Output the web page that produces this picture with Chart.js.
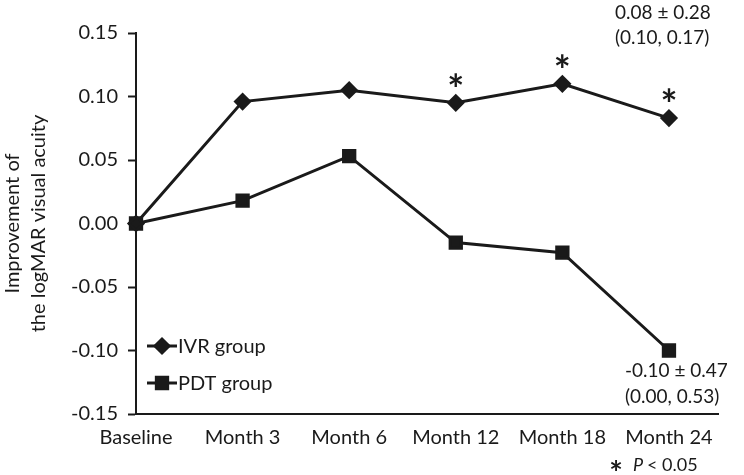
<!DOCTYPE html>
<html>
<head>
<meta charset="utf-8">
<script src="https://cdn.jsdelivr.net/npm/chart.js@4/dist/chart.umd.min.js"></script>
<style>
  html, body { margin: 0; padding: 0; background: #fff; }
  #wrap { width: 744px; height: 475px; position: relative; }
</style>
</head>
<body>
<div id="wrap"><canvas id="chart" width="744" height="475"></canvas></div>
<script>
// Data
const categories = ['Baseline', 'Month 3', 'Month 6', 'Month 12', 'Month 18', 'Month 24'];
const ivrValues = [0, 0.096, 0.105, 0.095, 0.110, 0.083];
const pdtValues = [0, 0.018, 0.053, -0.015, -0.023, -0.100];
const significantIdx = [3, 4, 5];
const ivrNote = ['0.08 \u00b1 0.28', '(0.10, 0.17)'];
const pdtNote = ['-0.10 \u00b1 0.47', '(0.00, 0.53)'];

const FONT = 'Lato, "Open Sans", sans-serif';
const INK = '#1a1a1a';

const toPoints = vals => vals.map((v, i) => ({ x: i, y: v }));

// draw a glyph with its ink box centred on (x, y)
function centredGlyph(ctx, ch, x, y) {
    ctx.textAlign = 'center';
    ctx.textBaseline = 'alphabetic';
    const m = ctx.measureText(ch);
    const mid = (m.actualBoundingBoxAscent - m.actualBoundingBoxDescent) / 2;
    ctx.fillText(ch, x, y + mid);
}

// Asterisks, side notes and in-plot legend
const extrasPlugin = {
    id: 'extras',
    afterDraw(chart) {
        const ctx = chart.ctx;
        const xs = chart.scales.x;
        const ys = chart.scales.y;
        ctx.save();
        ctx.fillStyle = INK;
        ctx.strokeStyle = INK;

        // significance stars above IVR points
        ctx.font = 'bold 40px ' + FONT;
        significantIdx.forEach(i => {
            centredGlyph(ctx, '*', xs.getPixelForValue(i), ys.getPixelForValue(ivrValues[i]) - 23);
        });

        // mean ± sd notes
        ctx.font = '19px ' + FONT;
        ctx.textAlign = 'left';
        ctx.textBaseline = 'middle';
        ivrNote.forEach((t, k) => ctx.fillText(t, 615, 13 + k * 25));
        pdtNote.forEach((t, k) => ctx.fillText(t, 625, 371 + k * 26));

        // footnote
        ctx.font = 'bold 32px ' + FONT;
        centredGlyph(ctx, '*', 616, 465);
        ctx.textAlign = 'left';
        ctx.textBaseline = 'middle';
        ctx.font = 'italic 18px ' + FONT;
        ctx.fillText('P', 633, 465);
        ctx.font = '18px ' + FONT;
        ctx.fillText('< 0.05', 647, 465);

        // legend
        const items = [
            { label: 'IVR group', ds: chart.data.datasets[0], y: 346 },
            { label: 'PDT group', ds: chart.data.datasets[1], y: 383 }
        ];
        items.forEach(it => {
            ctx.lineWidth = 3;
            ctx.beginPath();
            ctx.moveTo(147, it.y);
            ctx.lineTo(177, it.y);
            ctx.stroke();
            Chart.helpers.drawPoint(ctx, {
                pointStyle: it.ds.pointStyle,
                radius: it.ds.pointRadius,
                borderWidth: 1
            }, 162, it.y);
            ctx.fill();
            ctx.font = '20px ' + FONT;
            ctx.textAlign = 'left';
            ctx.textBaseline = 'middle';
            ctx.fillText(it.label, 178, it.y + 1);
        });
        ctx.restore();
    }
};

new Chart(document.getElementById('chart'), {
    type: 'line',
    data: {
        datasets: [
            {
                label: 'IVR group',
                data: toPoints(ivrValues),
                borderColor: INK,
                backgroundColor: INK,
                borderWidth: 3,
                pointStyle: 'rectRot',
                pointRadius: 7,
                pointHoverRadius: 7,
                tension: 0,
                clip: false
            },
            {
                label: 'PDT group',
                data: toPoints(pdtValues),
                borderColor: INK,
                backgroundColor: INK,
                borderWidth: 3,
                pointStyle: 'rect',
                pointRadius: 8,
                pointHoverRadius: 8,
                tension: 0,
                clip: false
            }
        ]
    },
    options: {
        responsive: false,
        animation: false,
        events: [],
        layout: { padding: { left: 0, top: 33, right: 26, bottom: 0 } },
        plugins: {
            legend: { display: false },
            tooltip: { enabled: false }
        },
        scales: {
            x: {
                type: 'linear',
                min: 0,
                max: 5.46,
                afterFit: s => { s.height = 61; },
                grid: { display: false, drawTicks: false, drawOnChartArea: false },
                border: { display: true, color: INK, width: 2 },
                ticks: {
                    stepSize: 1,
                    includeBounds: false,
                    autoSkip: false,
                    maxRotation: 0,
                    padding: 12,
                    color: INK,
                    font: { family: FONT, size: 20 },
                    callback: v => (Number.isInteger(v) ? categories[v] : '')
                }
            },
            y: {
                min: -0.15,
                max: 0.15,
                afterFit: s => { s.width = 136; },
                grid: {
                    drawOnChartArea: false,
                    drawTicks: true,
                    tickLength: 8,
                    tickWidth: 2,
                    color: INK
                },
                border: { display: true, color: INK, width: 2 },
                ticks: {
                    stepSize: 0.05,
                    padding: 10,
                    color: INK,
                    font: { family: FONT, size: 20 },
                    callback: v => (Math.abs(v) < 1e-9 ? '0.00' : v.toFixed(2))
                },
                title: {
                    display: true,
                    text: ['Improvement of', 'the logMAR visual acuity'],
                    color: INK,
                    font: { family: FONT, size: 20, lineHeight: 1.3 },
                    padding: { top: 0, bottom: 0 }
                }
            }
        }
    },
    plugins: [extrasPlugin]
});
</script>
</body>
</html>
